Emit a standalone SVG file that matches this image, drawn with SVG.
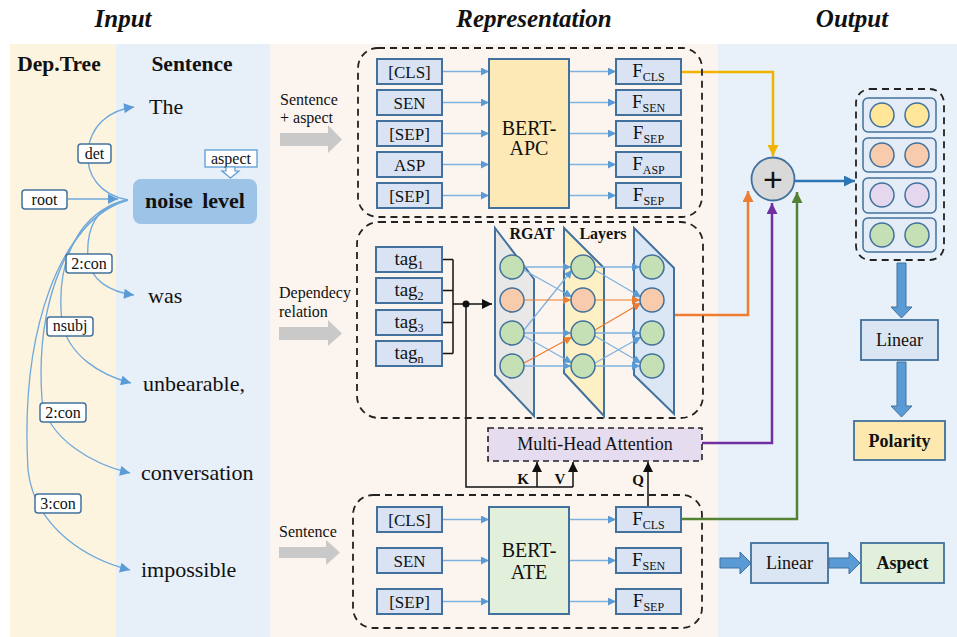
<svg xmlns="http://www.w3.org/2000/svg" width="957" height="637" viewBox="0 0 957 637">
<style>
.t{font-family:"Liberation Serif","Times New Roman",serif;fill:#111}
.title{font-size:25px;font-weight:bold;font-style:italic}
.hd{font-size:21.5px;font-weight:bold}
.word{font-size:22px}
.lbl{font-size:16px}
.bx{font-size:17px}
.big{font-size:20px}
.lb{fill:#fff;stroke:#41719c;stroke-width:1.5}
.tok{fill:#dae3f3;stroke:#41719c;stroke-width:2}
.dash{fill:none;stroke:#222;stroke-width:1.8;stroke-dasharray:7 5}
.arc{fill:none;stroke:#6fa8dc;stroke-width:1.3;marker-end:url(#aB)}
.ln{fill:none;stroke:#7fb2e0;stroke-width:1.3;marker-end:url(#aS)}
.nn{stroke:#41719c;stroke-width:1.5}
.g{fill:#c5e0b4}
.o{fill:#f8cbad}
.y{fill:#ffe699}
.p{fill:#e4d7ee}
.ga{fill:#c9c9c9}
.tb{fill:#5b9bd5;stroke:#41719c;stroke-width:1}
</style>
<defs>
<marker id="aB" viewBox="0 0 10 10" refX="10" refY="5" markerUnits="userSpaceOnUse" markerWidth="11" markerHeight="10" orient="auto"><path d="M0,0 L10,5 L0,10 z" fill="#5b9bd5"/></marker>
<marker id="aS" viewBox="0 0 10 10" refX="10" refY="5" markerUnits="userSpaceOnUse" markerWidth="9" markerHeight="8" orient="auto"><path d="M0,0 L10,5 L0,10 z" fill="#5b9bd5"/></marker>
<marker id="aO" viewBox="0 0 10 10" refX="10" refY="5" markerUnits="userSpaceOnUse" markerWidth="9" markerHeight="8" orient="auto"><path d="M0,0 L10,5 L0,10 z" fill="#ed7d31"/></marker>
<marker id="aOb" viewBox="0 0 10 10" refX="10" refY="5" markerUnits="userSpaceOnUse" markerWidth="11" markerHeight="11" orient="auto"><path d="M0,0 L10,5 L0,10 z" fill="#ed7d31"/></marker>
<marker id="aY" viewBox="0 0 10 10" refX="10" refY="5" markerUnits="userSpaceOnUse" markerWidth="11" markerHeight="11" orient="auto"><path d="M0,0 L10,5 L0,10 z" fill="#f0b400"/></marker>
<marker id="aP" viewBox="0 0 10 10" refX="10" refY="5" markerUnits="userSpaceOnUse" markerWidth="11" markerHeight="11" orient="auto"><path d="M0,0 L10,5 L0,10 z" fill="#7030a0"/></marker>
<marker id="aG" viewBox="0 0 10 10" refX="10" refY="5" markerUnits="userSpaceOnUse" markerWidth="11" markerHeight="11" orient="auto"><path d="M0,0 L10,5 L0,10 z" fill="#548235"/></marker>
<marker id="aD" viewBox="0 0 10 10" refX="10" refY="5" markerUnits="userSpaceOnUse" markerWidth="11" markerHeight="11" orient="auto"><path d="M0,0 L10,5 L0,10 z" fill="#2e75b6"/></marker>
<marker id="aK" viewBox="0 0 10 10" refX="10" refY="5" markerUnits="userSpaceOnUse" markerWidth="11" markerHeight="10" orient="auto"><path d="M0,0 L10,5 L0,10 z" fill="#111"/></marker>
</defs>

<!-- panels -->
<rect x="10" y="44" width="106" height="593" fill="#fdf4e0"/>
<rect x="116" y="44" width="154" height="593" fill="#e7eff8"/>
<rect x="270" y="44" width="448" height="593" fill="#fcf5ef"/>
<rect x="718" y="44" width="239" height="593" fill="#e8f1fa"/>

<text class="t title" x="123" y="27" text-anchor="middle">Input</text>
<text class="t title" x="534" y="27" text-anchor="middle">Representation</text>
<text class="t title" x="852" y="27" text-anchor="middle">Output</text>
<text class="t hd" x="59" y="71" text-anchor="middle">Dep.Tree</text>
<text class="t hd" x="192" y="71" text-anchor="middle">Sentence</text>

<!-- connectors -->
<g id="connectors">
  <!-- dependency arcs -->
  <path class="arc" d="M128,200 C100,195 86,175 88,152 C90,125 110,110 134,107"/>
  <path class="arc" d="M68,199 L118,199"/>
  <path class="arc" d="M128,200 C95,205 86,230 88,258 C90,280 110,292 134,295"/>
  <path class="arc" d="M128,200 C80,210 55,260 62,322 C68,355 100,375 131,383"/>
  <path class="arc" d="M128,200 C70,215 35,300 42,400 C48,440 95,465 130,473"/>
  <path class="arc" d="M128,200 C60,220 20,330 28,470 C35,530 90,560 130,570"/>

  <!-- BERT-APC -->
  <path class="ln" d="M442,71.5 H489"/>
  <path class="ln" d="M442,102.5 H489"/>
  <path class="ln" d="M442,133.5 H489"/>
  <path class="ln" d="M442,164.5 H489"/>
  <path class="ln" d="M442,195.5 H489"/>
  <path class="ln" d="M569,71.5 H616"/>
  <path class="ln" d="M569,102.5 H616"/>
  <path class="ln" d="M569,133.5 H616"/>
  <path class="ln" d="M569,164.5 H616"/>
  <path class="ln" d="M569,195.5 H616"/>

  <!-- BERT-ATE -->
  <path class="ln" d="M442,519.5 H489"/>
  <path class="ln" d="M442,560.5 H489"/>
  <path class="ln" d="M442,601.5 H489"/>
  <path class="ln" d="M569,519.5 H616"/>
  <path class="ln" d="M569,560.5 H616"/>
  <path class="ln" d="M569,601.5 H616"/>

  <!-- tag bracket -->
  <path d="M442,259.5 H453 M442,290.5 H453 M442,322.5 H453 M442,353.5 H453 M453,259.5 V353.5" fill="none" stroke="#111" stroke-width="1.5"/>
  <path d="M453,304 H492" fill="none" stroke="#111" stroke-width="1.5" marker-end="url(#aK)"/>
  <circle cx="466" cy="304" r="3.5" fill="#111"/>
  <path d="M466,304 V487 H573" fill="none" stroke="#111" stroke-width="1.5"/>
  <path d="M537,487 V462" fill="none" stroke="#111" stroke-width="1.5" marker-end="url(#aK)"/>
  <path d="M573,487 V462" fill="none" stroke="#111" stroke-width="1.5" marker-end="url(#aK)"/>
  <path d="M648,507 V462" fill="none" stroke="#111" stroke-width="1.5" marker-end="url(#aK)"/>

  <!-- colored lines to plus -->
  <path d="M681,72 H773 V156" fill="none" stroke="#f0b400" stroke-width="2.5" marker-end="url(#aY)"/>
  <path d="M675,315 H748 V191" fill="none" stroke="#ed7d31" stroke-width="2.5" marker-end="url(#aOb)"/>
  <path d="M702,443 H772 V203" fill="none" stroke="#7030a0" stroke-width="2.5" marker-end="url(#aP)"/>
  <path d="M681,519 H797 V192" fill="none" stroke="#548235" stroke-width="2.5" marker-end="url(#aG)"/>
  <path d="M794,181 H855" fill="none" stroke="#2e75b6" stroke-width="2.5" marker-end="url(#aD)"/>

  <!-- thick blue arrows -->
  <path class="tb" d="M897,263 H906 V307 H912 L901.5,318 L891,307 H897 Z"/>
  <path class="tb" d="M897,362 H906 V406 H912 L901.5,417 L891,406 H897 Z"/>
  <path class="tb" d="M720,558 H740 V552 L751,563 L740,574 V568 H720 Z"/>
  <path class="tb" d="M829,558 H849 V552 L860,563 L849,574 V568 H829 Z"/>

  <!-- gray input arrows -->
  <path class="ga" d="M280,133 H328 V125 L342,139.5 L328,153 V146 H280 Z"/>
  <path class="ga" d="M279,327 H328 V320 L342,333.5 L328,346 V340 H279 Z"/>
  <path class="ga" d="M279,547 H326 V540 L340,552.5 L326,565 V558 H279 Z"/>
</g>

<!-- dependency labels -->
<g id="lbl-det"><rect class="lb" x="78" y="144" width="33" height="19" rx="3"/><text class="t lbl" x="94.5" y="159" text-anchor="middle">det</text></g>
<g id="lbl-root"><rect class="lb" x="22" y="190" width="45" height="19" rx="3"/><text class="t lbl" x="44.5" y="205" text-anchor="middle">root</text></g>
<g id="lbl-2con-a"><rect class="lb" x="66" y="254" width="46" height="19" rx="3"/><text class="t lbl" x="89" y="269" text-anchor="middle">2:con</text></g>
<g id="lbl-nsubj"><rect class="lb" x="47" y="317" width="46" height="19" rx="3"/><text class="t lbl" x="70" y="331" text-anchor="middle">nsubj</text></g>
<g id="lbl-2con-b"><rect class="lb" x="40" y="403" width="46" height="19" rx="3"/><text class="t lbl" x="63" y="418" text-anchor="middle">2:con</text></g>
<g id="lbl-3con"><rect class="lb" x="35" y="494" width="46" height="19" rx="3"/><text class="t lbl" x="58" y="509" text-anchor="middle">3:con</text></g>

<!-- words -->
<g id="w-the"><text class="t word" x="149" y="114">The</text></g>
<g id="w-noise">
  <rect x="133" y="179" width="124" height="45" rx="8" fill="#9dc3e6"/>
  <text class="t word" x="195" y="208" text-anchor="middle" font-weight="bold" word-spacing="4">noise level</text>
</g>
<g id="aspect-tag">
  <rect x="205" y="150" width="52" height="17" fill="#fff" stroke="#5b9bd5" stroke-width="1.3"/>
  <text class="t lbl" x="231" y="164" text-anchor="middle">aspect</text>
  <path d="M226,167 H235 V171 H239 L230.5,178 L222,171 H226 Z" fill="#fff" stroke="#5b9bd5" stroke-width="1.2"/>
</g>
<g id="w-was"><text class="t word" x="148" y="303">was</text></g>
<g id="w-unbearable"><text class="t word" x="143" y="391">unbearable,</text></g>
<g id="w-conversation"><text class="t word" x="141" y="480">conversation</text></g>
<g id="w-impossible"><text class="t word" x="141" y="577">impossible</text></g>

<!-- Representation -->
<text class="t" font-size="16" x="280" y="105">Sentence</text>
<text class="t" font-size="16" x="280" y="123">+ aspect</text>
<text class="t" font-size="16" x="279" y="298">Dependecy</text>
<text class="t" font-size="16" x="279" y="317">relation</text>
<text class="t" font-size="16" x="279" y="537">Sentence</text>

<g id="apc-block">
  <rect class="dash" x="358" y="48" width="344" height="169" rx="20"/>
  <rect class="tok" x="377" y="59" width="65" height="25"/><text class="t bx" x="409.5" y="77.5" text-anchor="middle">[CLS]</text>
  <rect class="tok" x="377" y="90" width="65" height="25"/><text class="t bx" x="409.5" y="108.5" text-anchor="middle">SEN</text>
  <rect class="tok" x="377" y="121" width="65" height="25"/><text class="t bx" x="409.5" y="139.5" text-anchor="middle">[SEP]</text>
  <rect class="tok" x="377" y="152" width="65" height="25"/><text class="t bx" x="409.5" y="170.5" text-anchor="middle">ASP</text>
  <rect class="tok" x="377" y="183" width="65" height="25"/><text class="t bx" x="409.5" y="201.5" text-anchor="middle">[SEP]</text>
  <rect x="489" y="59" width="80" height="149" fill="#fde9b6" stroke="#41719c" stroke-width="2"/>
  <text class="t big" x="529" y="135" text-anchor="middle">BERT-</text>
  <text class="t big" x="529" y="155" text-anchor="middle">APC</text>
  <rect class="tok" x="616" y="59" width="65" height="25"/><text class="t" font-size="19" x="648.5" y="77" text-anchor="middle">F<tspan font-size="12" dy="4">CLS</tspan></text>
  <rect class="tok" x="616" y="90" width="65" height="25"/><text class="t" font-size="19" x="648.5" y="108" text-anchor="middle">F<tspan font-size="12" dy="4">SEN</tspan></text>
  <rect class="tok" x="616" y="121" width="65" height="25"/><text class="t" font-size="19" x="648.5" y="139" text-anchor="middle">F<tspan font-size="12" dy="4">SEP</tspan></text>
  <rect class="tok" x="616" y="152" width="65" height="25"/><text class="t" font-size="19" x="648.5" y="170" text-anchor="middle">F<tspan font-size="12" dy="4">ASP</tspan></text>
  <rect class="tok" x="616" y="183" width="65" height="25"/><text class="t" font-size="19" x="648.5" y="201" text-anchor="middle">F<tspan font-size="12" dy="4">SEP</tspan></text>
</g>

<g id="rgat-block">
  <rect class="dash" x="357" y="222" width="346" height="196" rx="22"/>
  <rect class="tok" x="376" y="247" width="66" height="25"/><text class="t" font-size="19" x="409" y="265" text-anchor="middle">tag<tspan font-size="12" dy="4">1</tspan></text>
  <rect class="tok" x="376" y="278" width="66" height="25"/><text class="t" font-size="19" x="409" y="296" text-anchor="middle">tag<tspan font-size="12" dy="4">2</tspan></text>
  <rect class="tok" x="376" y="310" width="66" height="25"/><text class="t" font-size="19" x="409" y="328" text-anchor="middle">tag<tspan font-size="12" dy="4">3</tspan></text>
  <rect class="tok" x="376" y="341" width="66" height="25"/><text class="t" font-size="19" x="409" y="359" text-anchor="middle">tag<tspan font-size="12" dy="4">n</tspan></text>
  <polygon points="495,228 534,279 534,416 495,375" fill="#e8e8e8" stroke="#41719c" stroke-width="2"/>
  <polygon points="564,228 604,268 604,416 564,373" fill="#fdf0c4" stroke="#41719c" stroke-width="2"/>
  <polygon points="634,228 674,268 674,414 634,375" fill="#dbe7f5" stroke="#41719c" stroke-width="2"/>
  <text class="t" font-size="16" font-weight="bold" x="532" y="239" text-anchor="middle">RGAT</text>
  <text class="t" font-size="16" font-weight="bold" x="603" y="239" text-anchor="middle">Layers</text>
  <!-- layer edges -->
  <g fill="none" stroke-width="1.2">
    <path class="ln" d="M524,267 L571,267"/>
    <path class="ln" d="M524,270 L572,297"/>
    <path class="ln" d="M524,330 L572,270"/>
    <path class="ln" d="M524,333 L571,333"/>
    <path class="ln" d="M524,336 L572,363"/>
    <path class="ln" d="M524,366 L571,366"/>
    <path d="M524,300 L571,300" stroke="#ed7d31" marker-end="url(#aO)"/>
    <path d="M524,363 L572,337" stroke="#ed7d31" marker-end="url(#aO)"/>
    <path class="ln" d="M595,267 L640,267"/>
    <path class="ln" d="M595,270 L641,297"/>
    <path class="ln" d="M595,333 L640,333"/>
    <path class="ln" d="M595,336 L641,363"/>
    <path class="ln" d="M595,363 L641,337"/>
    <path class="ln" d="M595,366 L640,366"/>
    <path d="M595,300 L640,300" stroke="#ed7d31" marker-end="url(#aO)"/>
    <path d="M595,330 L641,303" stroke="#ed7d31" marker-end="url(#aO)"/>
  </g>
  <circle class="nn g" cx="512" cy="267" r="12"/><circle class="nn o" cx="512" cy="300" r="12"/><circle class="nn g" cx="512" cy="333" r="12"/><circle class="nn g" cx="512" cy="366" r="12"/>
  <circle class="nn g" cx="583" cy="267" r="12"/><circle class="nn o" cx="583" cy="300" r="12"/><circle class="nn g" cx="583" cy="333" r="12"/><circle class="nn g" cx="583" cy="366" r="12"/>
  <circle class="nn g" cx="652" cy="267" r="12"/><circle class="nn o" cx="652" cy="300" r="12"/><circle class="nn g" cx="652" cy="333" r="12"/><circle class="nn g" cx="652" cy="366" r="12"/>
</g>

<g id="mha">
  <rect x="488" y="428" width="214" height="33" fill="#e5dcef" stroke="#222" stroke-width="1.6" stroke-dasharray="6 4"/>
  <text class="t" font-size="18" x="595" y="450" text-anchor="middle">Multi-Head Attention</text>
  <text class="t" font-size="15" font-weight="bold" x="523" y="484" text-anchor="middle">K</text>
  <text class="t" font-size="15" font-weight="bold" x="560" y="484" text-anchor="middle">V</text>
  <text class="t" font-size="15" font-weight="bold" x="638" y="485" text-anchor="middle">Q</text>
</g>

<g id="ate-block">
  <rect class="dash" x="353" y="495" width="349" height="133" rx="20"/>
  <rect class="tok" x="377" y="507" width="65" height="25"/><text class="t bx" x="409.5" y="525.5" text-anchor="middle">[CLS]</text>
  <rect class="tok" x="377" y="548" width="65" height="25"/><text class="t bx" x="409.5" y="566.5" text-anchor="middle">SEN</text>
  <rect class="tok" x="377" y="589" width="65" height="25"/><text class="t bx" x="409.5" y="607.5" text-anchor="middle">[SEP]</text>
  <rect x="489" y="507" width="80" height="107" fill="#e2efda" stroke="#41719c" stroke-width="2"/>
  <text class="t big" x="529" y="557" text-anchor="middle">BERT-</text>
  <text class="t big" x="529" y="579" text-anchor="middle">ATE</text>
  <rect class="tok" x="616" y="507" width="65" height="25"/><text class="t" font-size="19" x="648.5" y="525" text-anchor="middle">F<tspan font-size="12" dy="4">CLS</tspan></text>
  <rect class="tok" x="616" y="548" width="65" height="25"/><text class="t" font-size="19" x="648.5" y="566" text-anchor="middle">F<tspan font-size="12" dy="4">SEN</tspan></text>
  <rect class="tok" x="616" y="589" width="65" height="25"/><text class="t" font-size="19" x="648.5" y="607" text-anchor="middle">F<tspan font-size="12" dy="4">SEP</tspan></text>
</g>

<!-- Output -->
<g id="plus">
  <circle cx="773" cy="179" r="21.5" fill="#d9d9d9" stroke="#41719c" stroke-width="1.8"/>
  <text x="773" y="191" font-family="'Liberation Sans',Arial,sans-serif" font-size="34" text-anchor="middle" fill="#111">+</text>
</g>
<g id="out-vectors">
  <rect class="dash" x="856" y="89" width="88" height="171" rx="14"/>
  <rect x="863" y="98" width="73" height="34" rx="5" fill="#e3ecf7" stroke="#41719c" stroke-width="1.5"/>
  <rect x="863" y="138" width="73" height="34" rx="5" fill="#e3ecf7" stroke="#41719c" stroke-width="1.5"/>
  <rect x="863" y="178" width="73" height="35" rx="5" fill="#e3ecf7" stroke="#41719c" stroke-width="1.5"/>
  <rect x="863" y="218" width="73" height="34" rx="5" fill="#e3ecf7" stroke="#41719c" stroke-width="1.5"/>
  <circle class="nn y" cx="882" cy="115" r="12"/><circle class="nn y" cx="917" cy="115" r="12"/>
  <circle class="nn o" cx="882" cy="155" r="12"/><circle class="nn o" cx="917" cy="155" r="12"/>
  <circle class="nn p" cx="882" cy="195" r="12"/><circle class="nn p" cx="917" cy="195" r="12"/>
  <circle class="nn g" cx="882" cy="235" r="12"/><circle class="nn g" cx="917" cy="235" r="12"/>
</g>
<g id="linear-1">
  <rect x="861" y="320" width="77" height="40" fill="#dae6f3" stroke="#41719c" stroke-width="1.8"/>
  <text class="t" font-size="18" x="899.5" y="346" text-anchor="middle">Linear</text>
</g>
<g id="polarity">
  <rect x="854" y="421" width="91" height="39" fill="#fde9b0" stroke="#41719c" stroke-width="1.8"/>
  <text class="t" font-size="18" font-weight="bold" x="899.5" y="447" text-anchor="middle">Polarity</text>
</g>
<g id="linear-2">
  <rect x="751" y="543" width="77" height="40" fill="#dae6f3" stroke="#41719c" stroke-width="1.8"/>
  <text class="t" font-size="18" x="789.5" y="569" text-anchor="middle">Linear</text>
</g>
<g id="aspect-out">
  <rect x="861" y="543" width="83" height="40" fill="#e2efda" stroke="#41719c" stroke-width="1.8"/>
  <text class="t" font-size="18" font-weight="bold" x="902.5" y="569" text-anchor="middle">Aspect</text>
</g>
</svg>
